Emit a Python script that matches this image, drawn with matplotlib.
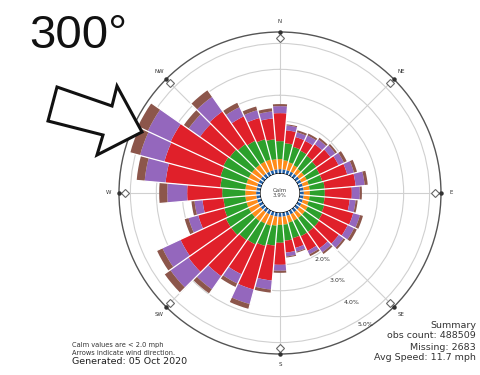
import numpy as np
import matplotlib
matplotlib.use("Agg")
import matplotlib.pyplot as plt
from matplotlib.patches import Polygon

# wind direction bins (degrees, every 10)
directions = list(range(0, 360, 10))

# percent of observations per speed bin, one value per direction
speed_bins = ["2-5", "5-7", "7-10", "10-15", "15-20", "20+"]
blue = [0.15] * 36
orange = [0.39, 0.35, 0.31, 0.27, 0.23, 0.23, 0.23, 0.23, 0.23, 0.23, 0.23, 0.23,
          0.27, 0.27, 0.27, 0.27, 0.27, 0.31, 0.31, 0.35, 0.39, 0.39, 0.42, 0.42,
          0.42, 0.42, 0.42, 0.42, 0.42, 0.42, 0.42, 0.42, 0.42, 0.42, 0.42, 0.39]
green = [0.69, 0.66, 0.62, 0.62, 0.62, 0.58, 0.54, 0.54, 0.58, 0.58, 0.58, 0.62,
         0.62, 0.66, 0.66, 0.66, 0.62, 0.62, 0.69, 0.77, 0.81, 0.89, 0.89, 0.97,
         0.97, 0.89, 0.85, 0.89, 0.97, 1.04, 1.08, 1.04, 0.97, 0.89, 0.81, 0.77]
red = [1.08, 0.50, 0.39, 0.42, 0.54, 0.66, 0.81, 1.00, 1.20, 1.04, 0.97, 1.16,
       1.08, 0.93, 0.77, 0.62, 0.39, 0.46, 0.85, 1.35, 1.74, 1.27, 1.70, 2.01,
       1.93, 1.04, 0.81, 1.35, 2.12, 2.24, 2.24, 1.39, 1.54, 1.04, 0.85, 0.81]
purple = [0.27, 0.19, 0.19, 0.23, 0.23, 0.23, 0.23, 0.27, 0.35, 0.31, 0.23, 0.27,
          0.27, 0.23, 0.19, 0.15, 0.15, 0.15, 0.23, 0.35, 0.58, 0.39, 0.62, 0.85,
          0.77, 0.39, 0.31, 0.77, 0.81, 0.97, 0.97, 0.54, 0.69, 0.39, 0.31, 0.27]
brown = [0.08, 0.04, 0.08, 0.08, 0.08, 0.08, 0.12, 0.12, 0.12, 0.08, 0.08, 0.12,
         0.12, 0.08, 0.08, 0.08, 0.04, 0.04, 0.08, 0.12, 0.19, 0.15, 0.19, 0.27,
         0.23, 0.15, 0.12, 0.31, 0.31, 0.39, 0.42, 0.23, 0.31, 0.19, 0.15, 0.12]
colors = ["#1f5fa8", "#ff8c1a", "#2ca02c", "#e0202a", "#9467bd", "#8c564b"]

ring_values = [1, 2, 3, 4, 5]
ring_labels = ["2.0%", "3.0%", "4.0%", "5.0%"]
compass = ["N", "NE", "E", "SE", "S", "SW", "W", "NW"]
calm_pct = 3.9
rmax = 5.44

fig = plt.figure(figsize=(4.81, 3.75), dpi=100)
fig.patch.set_facecolor("white")
ax = fig.add_axes([0.2474, 0.056, 0.6694, 0.8587], projection="polar")
ax.set_theta_zero_location("N")
ax.set_theta_direction(-1)
ax.set_rorigin(-0.77)
ax.set_ylim(0, rmax)

theta = np.radians(directions)
width = np.radians(10)
bottom = np.zeros(len(directions))
for vals, col, lab in zip([blue, orange, green, red, purple, brown], colors, speed_bins):
    ax.bar(theta, vals, width=width, bottom=bottom.copy(), color=col,
           linewidth=0, label=lab, zorder=3)
    bottom = bottom + np.array(vals)

# thin white gaps between the direction bars
for i in range(len(directions)):
    edge = theta[i] + width / 2
    top = max(bottom[i], bottom[(i + 1) % len(directions)]) + 0.05
    ax.plot([edge, edge], [0, top], color="white", linewidth=0.9, zorder=4)

# grid
ax.set_thetagrids(range(0, 360, 45), labels=[])
ax.set_rgrids(ring_values, labels=[])
ax.grid(color="#d0d0d0", linewidth=0.8)
ax.spines["polar"].set_color("#555555")
ax.spines["polar"].set_linewidth(1.0)

# ring labels
for v, lab in zip(ring_values[1:], ring_labels):
    ax.text(np.radians(147), v + 0.27, lab, fontsize=4.5, color="#333333",
            ha="center", va="center", zorder=5)

# compass markers around the edge
for i, name in enumerate(compass):
    t = np.radians(i * 45)
    ax.plot(t, rmax - 0.22, marker="D", ms=4.5, mfc="white", mec="#666666",
            mew=0.8, clip_on=False, zorder=6)
    ax.plot(t, rmax, marker="o", ms=2.2, color="#333333", clip_on=False, zorder=6)
    ax.text(t, rmax + 0.4, name, fontsize=4, color="#333333",
            ha="center", va="center", clip_on=False)

ax.text(0, -0.77, f"Calm\n{calm_pct}%", fontsize=4, color="#444444",
        ha="center", va="center", linespacing=1.1, zorder=6)

# footer notes
fig.text(72 / 481, 1 - 345 / 375, "Calm values are < 2.0 mph", fontsize=4.8,
         color="#333333", va="center")
fig.text(72 / 481, 1 - 353 / 375, "Arrows indicate wind direction.", fontsize=4.8,
         color="#333333", va="center")
fig.text(72 / 481, 1 - 362 / 375, "Generated: 05 Oct 2020", fontsize=6.8,
         color="#222222", va="center")

summary = ["Summary", "obs count: 488509", "Missing: 2683", "Avg Speed: 11.7 mph"]
for i, line in enumerate(summary):
    fig.text(476 / 481, 1 - (325 + 11 * i) / 375, line, fontsize=6.8,
             color="#333333", ha="right", va="center")

# highlighted direction
fig.text(29 / 481, 1 - 48 / 375, "300°", fontsize=34, family="Liberation Sans",
         color="#111111", va="baseline")

pts = [(57, 87), (112, 106), (117, 86), (142, 132), (97, 155), (103, 135), (48, 121)]
arrow = Polygon([(x / 481, 1 - y / 375) for x, y in pts], closed=True,
                transform=fig.transFigure, facecolor="white", edgecolor="#111111",
                linewidth=2.2, joinstyle="miter", zorder=10)
fig.add_artist(arrow)

fig.savefig("out.png", dpi=100)
